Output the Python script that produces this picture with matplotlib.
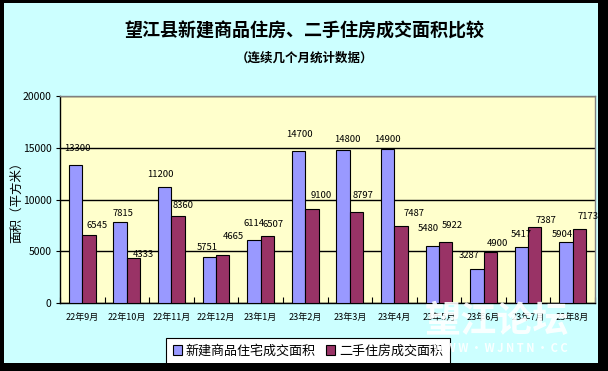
import matplotlib
matplotlib.use("Agg")
import matplotlib.pyplot as plt
from matplotlib.patches import Rectangle, Patch
import numpy as np

plt.rcParams['font.family'] = ['Noto Sans CJK SC', 'DejaVu Sans']

months = ["22年9月", "22年10月", "22年11月", "22年12月", "23年1月", "23年2月",
          "23年3月", "23年4月", "23年5月", "23年6月", "23年7月", "23年8月"]
new_area = [13300, 7815, 11200, 4450, 6114, 14700, 14800, 14900, 5480, 3287, 5417, 5904]
new_labels = ["13300", "7815", "11200", "5751", "6114", "14700", "14800", "14900",
              "5480", "3287", "5417", "5904"]
used_area = [6545, 4333, 8360, 4665, 6507, 9100, 8797, 7487, 5922, 4900, 7387, 7173]
used_labels = ["6545", "4333", "8360", "4665", "6507", "9100", "8797", "7487",
               "5922", "4900", "7387", "7173"]
series_names = ["新建商品住宅成交面积", "二手住房成交面积"]
title = "望江县新建商品住房、二手住房成交面积比较"
subtitle = "（连续几个月统计数据）"
ylabel = "面积（平方米）"

# label offsets in pixels (dx, dy) relative to bar top centre
new_off = [(2, 17), (3, 9), (-4, 13), (-2, 9), (0, 16), (1, 16), (4, 10), (0, 9),
           (-4, 18), (-8, 13), (0, 12), (-4, 7)]
used_off = [(8, 10), (10, 4), (5, 11), (11, 18), (6, 11), (9, 13), (7, 16), (13, 12),
            (7, 16), (7, 9), (11, 6), (9, 12)]

W, H = 608, 371
fig = plt.figure(figsize=(W / 100, H / 100), dpi=100)
fig.patch.set_facecolor("black")
fig.add_artist(Rectangle((4 / W, 8 / H), 594 / W, 360 / H, transform=fig.transFigure,
                         facecolor="#CCFFFF", edgecolor="none", zorder=0))

ax = fig.add_axes([60 / W, 68 / H, 535 / W, 207 / H])
ax.set_facecolor("#FFFFCC")
x = np.arange(len(months))
bw = 0.3
blue = "#9999FF"
red = "#993366"
ax.bar(x - bw / 2, new_area, bw, color=blue, edgecolor="black", linewidth=0.8, zorder=3)
ax.bar(x + bw / 2, used_area, bw, color=red, edgecolor="black", linewidth=0.8, zorder=3)

ax.set_xlim(-0.5, len(months) - 0.5)
ax.set_ylim(0, 20000)
ax.set_yticks([0, 5000, 10000, 15000, 20000])
ax.set_yticklabels(["0", "5000", "10000", "15000", "20000"], fontsize=7.5)
ax.grid(axis="y", color="black", linewidth=1.0, zorder=1)
ax.set_xticks(x)
ax.set_xticklabels(months, fontsize=6.5)
ax.set_xticks(np.arange(len(months) + 1) - 0.5, minor=True)
ax.tick_params(axis="x", which="major", length=0, pad=7)
ax.tick_params(axis="x", which="minor", direction="in", length=4, width=0.8)
ax.tick_params(axis="y", length=3, width=0.8, pad=3, direction="out")
for s in ["left", "bottom"]:
    ax.spines[s].set_color("black")
    ax.spines[s].set_linewidth(1.0)
for s in ["top", "right"]:
    ax.spines[s].set_color("#808080")
    ax.spines[s].set_linewidth(1.0)

for i in range(len(months)):
    ax.annotate(new_labels[i], (x[i] - bw / 2, new_area[i]), xytext=new_off[i],
                textcoords="offset pixels", ha="center", va="center", fontsize=6.8, zorder=5)
    ax.annotate(used_labels[i], (x[i] + bw / 2, used_area[i]), xytext=used_off[i],
                textcoords="offset pixels", ha="center", va="center", fontsize=6.8, zorder=5)

fig.text(304 / W, 1 - 31 / H, title, ha="center", va="center", fontsize=13, fontweight="bold")
fig.text(304 / W, 1 - 58 / H, subtitle, ha="center", va="center", fontsize=9, fontweight="bold")
fig.text(17 / W, 1 - 199 / H, ylabel, ha="center", va="center", rotation=90, fontsize=9)

handles = [Patch(facecolor=blue, edgecolor="black", linewidth=0.8),
           Patch(facecolor=red, edgecolor="black", linewidth=0.8)]
leg = fig.legend(handles, series_names, loc="upper left", bbox_to_anchor=(166 / W, 1 - 338 / H),
                 ncol=2, fontsize=9.4, frameon=True, fancybox=False, edgecolor="black",
                 facecolor="white", framealpha=1, handlelength=0.7, handleheight=0.7,
                 handletextpad=0.3, columnspacing=0.8, borderpad=0.5, borderaxespad=0)
leg.get_frame().set_linewidth(0.8)

# watermark
fig.text(497 / W, 1 - 322 / H, "望江论坛", ha="center", va="center", fontsize=26,
         fontweight="bold", color="white", alpha=0.9, zorder=50)
fig.text(500 / W, 1 - 348 / H, "W W W · W J N T N · C C", ha="center", va="center",
         fontsize=8, fontweight="bold", color="white", alpha=0.9, zorder=50)

# black border on top
for (bx, by, bwid, bh) in [(0, 0, W, 8), (0, 368, W, 3), (0, 0, 4, H), (598, 0, 10, H)]:
    fig.add_artist(Rectangle((bx / W, by / H), bwid / W, bh / H, transform=fig.transFigure,
                             facecolor="black", edgecolor="none", zorder=100))

fig.savefig("out.png", dpi=100, facecolor=fig.get_facecolor())
